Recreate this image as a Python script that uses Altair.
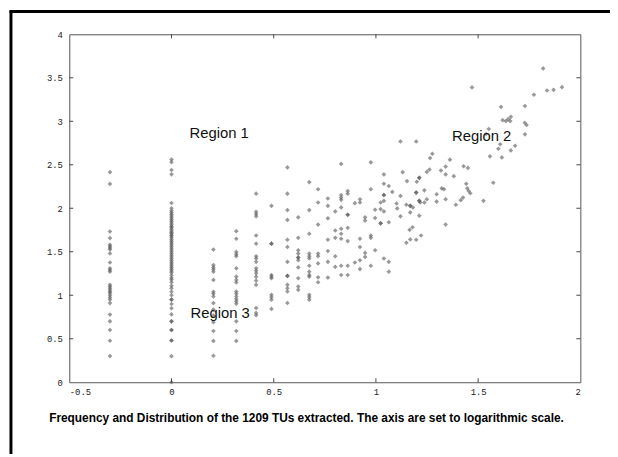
import altair as alt
import pandas as pd

# ---- data (log10 values) ----
col_m030_y = [2.415, 2.28, 1.733, 1.657, 1.58, 1.562, 1.543, 1.525, 1.48, 1.377, 1.309, 1.29, 1.27,
              1.12, 1.10, 1.08, 1.06, 1.04, 1.025, 1.0, 0.975, 0.95, 0.91, 0.778, 0.70, 0.60, 0.477, 0.301]
col_000_y = [2.56, 2.53, 2.44, 2.39, 2.06, 2.0, 1.97, 1.95, 1.93, 1.91, 1.89, 1.87, 1.85, 1.83, 1.81,
             1.79, 1.78, 1.76, 1.74, 1.72, 1.71, 1.69, 1.68, 1.66, 1.64, 1.62, 1.6, 1.58, 1.56, 1.54,
             1.52, 1.5, 1.48, 1.46, 1.44, 1.42, 1.4, 1.38, 1.36, 1.34, 1.32, 1.3, 1.28, 1.26, 1.23,
             1.2, 1.18, 1.15, 1.11, 1.08, 1.04, 1.0, 0.95, 0.95, 0.9, 0.85, 0.78, 0.7, 0.7, 0.6, 0.6,
             0.48, 0.48, 0.3, 0.0]
col_020_y = [1.525, 1.347, 1.32, 1.297, 1.27, 1.176, 1.04, 1.017, 0.986, 0.91, 0.835, 0.767, 0.69,
             0.589, 0.475, 0.305]
col_032_y = [1.737, 1.65, 1.498, 1.47, 1.449, 1.309, 1.214, 1.176, 1.146, 1.043, 1.017, 0.986, 0.957,
             0.93, 0.903, 0.70, 0.589, 0.475]
col_041_y = [2.168, 1.96, 1.934, 1.907, 1.6875, 1.593, 1.449, 1.422, 1.384, 1.309, 1.282, 1.252,
             1.214, 1.168, 1.12, 0.854, 0.797, 0.77]
col_049_y = [2.028, 1.593, 1.593, 1.233, 1.214, 1.195, 1.006, 0.979, 0.949, 0.843]
col_057_y = [2.47, 2.168, 1.979, 1.866, 1.638, 1.555, 1.384, 1.222, 1.222, 1.12, 1.081, 1.043, 0.911]
col_062_y = [1.896, 1.66, 1.517, 1.479, 1.434, 1.434, 1.403, 1.32, 1.195, 1.1, 1.062]
col_067_y = [2.30, 1.979, 1.707, 1.479, 1.449, 1.422, 1.339, 1.271, 1.233, 1.214, 1.006, 0.979, 0.949]
col_072_y = [2.218, 2.066, 1.8125, 1.479, 1.449, 1.366, 1.206, 1.15]
col_077_y = [2.112, 2.028, 1.884, 1.638, 1.509, 1.384, 1.203]
col_080_y = [1.964, 1.744, 1.66, 1.449, 1.327]
col_083_y = [2.51, 2.153, 2.123, 2.097, 2.01, 1.764, 1.707, 1.65, 1.339, 1.233]
col_086_y = [2.199, 2.168, 1.926, 1.926, 1.775, 1.623, 1.339, 1.233]

column_x = [-0.301, 0.0, 0.205, 0.317, 0.414, 0.489, 0.567, 0.620, 0.674, 0.717, 0.765, 0.801, 0.830, 0.862]
column_y = [col_m030_y, col_000_y, col_020_y, col_032_y, col_041_y, col_049_y, col_057_y, col_062_y,
            col_067_y, col_072_y, col_077_y, col_080_y, col_083_y, col_086_y]

scatter_x = [0.897, 0.897, 0.922, 0.922, 0.922, 0.922, 0.922, 0.922, 0.947, 0.947, 0.947, 0.947,
             0.975, 0.975, 0.975, 0.975, 0.975, 0.996, 0.996, 0.996, 1.023, 1.023, 1.023, 1.023,
             1.039, 1.039, 1.039, 1.039, 1.039, 1.039, 1.039, 1.063, 1.063, 1.063, 1.063, 1.080,
             1.47, 1.552, 1.539, 1.558, 1.574, 1.12, 1.197, 1.276, 1.265, 1.362, 1.131, 1.262, 1.249,
             1.318, 1.341, 1.429, 1.45, 1.341, 1.381, 1.212, 1.212, 1.2, 1.152, 1.442, 1.322, 1.333,
             1.447, 1.454, 1.462, 1.12, 1.197, 1.197, 1.237, 1.297, 1.426, 1.415, 1.391, 1.526, 1.101,
             1.104, 1.149, 1.168, 1.168, 1.181, 1.212, 1.212, 1.217, 1.237, 1.249, 1.297, 1.341, 1.12,
             1.168, 1.212, 1.341, 1.179, 1.165, 1.221, 1.197, 1.168, 1.149,
             1.818, 1.773, 1.837, 1.869, 1.91, 1.612, 1.729, 1.62, 1.636, 1.647, 1.66, 1.657, 1.728,
             1.737, 1.729, 1.608, 1.599, 1.681, 1.66, 1.616]
scatter_y = [2.059, 1.377, 2.104, 2.066, 1.65, 1.555, 1.403, 1.301, 1.896, 1.858, 1.487, 1.441,
             2.528, 2.218, 1.6875, 1.66, 1.339, 1.983, 1.888, 1.517, 2.066, 1.99, 1.827, 1.827,
             2.389, 2.282, 2.153, 2.153, 2.085, 1.964, 1.422, 2.256, 1.839, 1.384, 1.271, 2.188,
             3.389, 2.911, 2.854, 2.597, 2.293, 2.767, 2.767, 2.627, 2.578, 2.559, 2.415, 2.445, 2.418,
             2.434, 2.479, 2.483, 2.464, 2.389, 2.369, 2.35, 2.35, 2.305, 2.312, 2.282, 2.229, 2.218,
             2.229, 2.199, 2.172, 2.142, 2.18, 2.18, 2.206, 2.161, 2.123, 2.093, 2.04, 2.085, 2.055,
             1.998, 2.04, 2.028, 2.028, 2.009, 2.085, 2.085, 2.066, 2.066, 2.104, 2.077, 2.104, 1.907,
             1.952, 1.915, 1.8125, 1.782, 1.752, 1.6875, 1.638, 1.642, 1.604,
             3.608, 3.305, 3.354, 3.361, 3.392, 3.165, 3.176, 3.013, 3.002, 3.025, 3.051, 3.002, 2.983,
             2.957, 2.85, 2.736, 2.684, 2.718, 2.665, 2.585]

x_ticks = [-0.5, 0, 0.5, 1, 1.5, 2]
y_ticks = [0, 0.5, 1, 1.5, 2, 2.5, 3, 3.5, 4]
inner_x_ticks = [0, 0.5, 1, 1.5]
inner_y_ticks = [0.5, 1, 1.5, 2, 2.5, 3, 3.5]

region_labels = ["Region 1", "Region 2", "Region 3"]
region_x = [0.088, 1.372, 0.093]
region_y = [2.87, 2.83, 0.80]

caption = "Frequency and Distribution of  the 1209 TUs extracted. The axis are set to logarithmic scale."

# ---- build tables ----
px, py = [], []
for cx, ys in zip(column_x, column_y):
    for v in ys:
        px.append(cx)
        py.append(v)
px += scatter_x
py += scatter_y
points = pd.DataFrame({"x": px, "y": py})

W, H = 517, 352

xscale = alt.Scale(domain=[-0.5, 2], nice=False, zero=False)
yscale = alt.Scale(domain=[0, 4], nice=False, zero=False)

label_font = "Liberation Mono"
x_axis = alt.Axis(values=x_ticks, grid=False, domain=False, ticks=False, title=None,
                  labelFont=label_font, labelFontSize=9, labelColor="#222",
                  labelPadding=5, labelExpr="'' + datum.value")
y_axis = alt.Axis(values=y_ticks, grid=False, domain=False, ticks=False, title=None,
                  labelFont=label_font, labelFontSize=9, labelColor="#222",
                  labelPadding=7, labelExpr="'' + datum.value")


def X(field="x"):
    return alt.X(f"{field}:Q", scale=xscale, axis=x_axis, title=None)


def Y(field="y"):
    return alt.Y(f"{field}:Q", scale=yscale, axis=y_axis, title=None)


scatter = alt.Chart(points).mark_point(
    shape="diamond", filled=True, size=22, color="#555555", opacity=0.6
).encode(x=X(), y=Y())

xt = pd.DataFrame({"x": inner_x_ticks})
yt = pd.DataFrame({"y": inner_y_ticks})
tick_style = dict(color="#444", strokeWidth=1)

xtick_bottom = alt.Chart(xt).mark_rule(**tick_style).encode(
    x=X(), y=alt.value(H), y2=alt.value(H - 4))
xtick_top = alt.Chart(xt).mark_rule(**tick_style).encode(
    x=X(), y=alt.value(0), y2=alt.value(4))
ytick_left = alt.Chart(yt).mark_rule(**tick_style).encode(
    y=Y(), x=alt.value(0), x2=alt.value(4))
ytick_right = alt.Chart(yt).mark_rule(**tick_style).encode(
    y=Y(), x=alt.value(W), x2=alt.value(W - 4))

regions = alt.Chart(pd.DataFrame({"label": region_labels, "x": region_x, "y": region_y})).mark_text(
    align="left", baseline="middle", font="Liberation Sans", fontSize=15, color="#111"
).encode(x=X(), y=Y(), text="label:N")

one = pd.DataFrame({"a": [0]})
cap = alt.Chart(one).mark_text(
    align="center", baseline="middle", font="Liberation Sans", fontSize=12, fontWeight="bold", color="#000"
).encode(x=alt.value(240), y=alt.value(388), text=alt.value(caption))

frame_left = alt.Chart(one).mark_rule(color="#000", strokeWidth=3).encode(
    x=alt.value(-59), y=alt.value(-24), y2=alt.value(H + 80))
frame_top = alt.Chart(one).mark_rule(color="#000", strokeWidth=3).encode(
    x=alt.value(-60.5), x2=alt.value(W + 40), y=alt.value(-23))

chart = alt.layer(
    scatter, xtick_bottom, xtick_top, ytick_left, ytick_right, regions, cap, frame_left, frame_top
).properties(
    width=W, height=H,
    autosize=alt.AutoSizeParams(type="none"),
    padding={"left": 62, "top": 24, "right": 30, "bottom": 70},
    background="white",
).configure_view(stroke="#555", strokeWidth=1)

chart.save("out.html", embed_options={"renderer": "svg", "actions": False})
